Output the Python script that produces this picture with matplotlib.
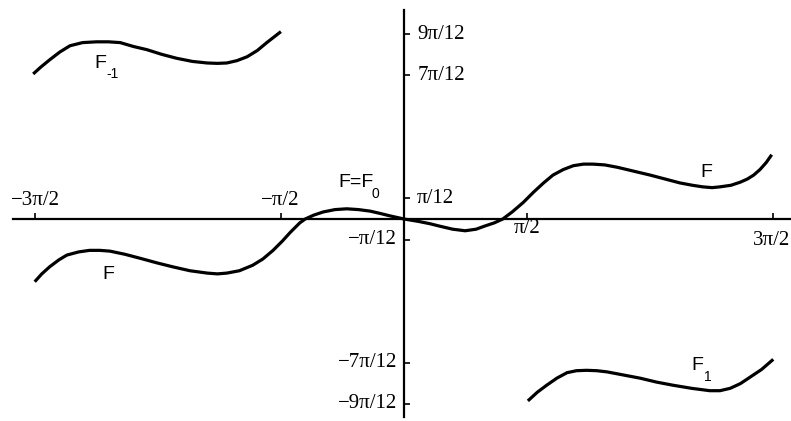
import matplotlib.pyplot as plt
import numpy as np

# curve F = F_0 (values in radians)
f_x = [-4.71, -4.62, -4.52, -4.40, -4.30, -4.15, -4.01, -3.88, -3.75, -3.56,
       -3.37, -3.15, -2.95, -2.73, -2.51, -2.38, -2.26, -2.10, -1.93, -1.80,
       -1.67, -1.55, -1.45, -1.33, -1.26, -1.15, -1.03, -0.88, -0.73, -0.58,
       -0.43, -0.30, -0.18, 0.0, 0.18, 0.33, 0.45, 0.62, 0.78, 0.92,
       1.03, 1.15, 1.26, 1.38, 1.52, 1.65, 1.78, 1.90, 2.03, 2.16,
       2.29, 2.41, 2.56, 2.72, 2.93, 3.14, 3.33, 3.52, 3.68, 3.81,
       3.93, 4.03, 4.17, 4.29, 4.38, 4.46, 4.54, 4.62, 4.69]
f_y = [-0.80, -0.70, -0.61, -0.52, -0.46, -0.42, -0.40, -0.40, -0.41, -0.45,
       -0.50, -0.56, -0.61, -0.66, -0.69, -0.70, -0.69, -0.66, -0.59, -0.51,
       -0.40, -0.28, -0.17, -0.05, 0.0, 0.05, 0.09, 0.12, 0.13, 0.12,
       0.10, 0.07, 0.04, 0.0, -0.03, -0.06, -0.09, -0.13, -0.15, -0.13,
       -0.09, -0.05, 0.0, 0.09, 0.21, 0.34, 0.46, 0.56, 0.63, 0.68,
       0.70, 0.70, 0.69, 0.66, 0.61, 0.56, 0.51, 0.46, 0.43, 0.41,
       0.40, 0.41, 0.43, 0.47, 0.51, 0.56, 0.63, 0.72, 0.82]

# curve F_-1
fm1_x = [-4.73, -4.63, -4.52, -4.39, -4.26, -4.10, -3.92, -3.77, -3.62, -3.45,
         -3.28, -3.09, -2.90, -2.70, -2.51, -2.38, -2.26, -2.13, -2.00, -1.87,
         -1.75, -1.66, -1.57]
fm1_y = [1.85, 1.94, 2.03, 2.13, 2.21, 2.25, 2.26, 2.26, 2.25, 2.20,
         2.16, 2.10, 2.05, 2.01, 1.99, 1.985, 1.99, 2.02, 2.07, 2.15,
         2.25, 2.32, 2.39]

# curve F_1
f1_x = [1.58, 1.70, 1.82, 1.95, 2.08, 2.20, 2.33, 2.46, 2.59, 2.80,
        3.01, 3.22, 3.43, 3.67, 3.90, 4.03, 4.16, 4.29, 4.41, 4.56, 4.71]
f1_y = [-2.32, -2.21, -2.12, -2.03, -1.96, -1.935, -1.93, -1.935, -1.95, -1.99,
        -2.03, -2.08, -2.12, -2.16, -2.19, -2.19, -2.16, -2.10, -2.02, -1.92, -1.79]

x_ticks = [-3 * np.pi / 2, -np.pi / 2, np.pi / 2, 3 * np.pi / 2]
x_labels = ['\u22123\u03c0/2', '\u2212\u03c0/2', '\u03c0/2', '3\u03c0/2']
y_ticks = [9 * np.pi / 12, 7 * np.pi / 12, np.pi / 12, -np.pi / 12, -7 * np.pi / 12, -9 * np.pi / 12]
y_labels = ['9\u03c0/12', '7\u03c0/12', '\u03c0/12', '\u2212\u03c0/12', '\u22127\u03c0/12', '\u22129\u03c0/12']

fig = plt.figure(figsize=(7.91, 4.21), dpi=100)
ax = fig.add_axes([0, 0, 1, 1])
s = 78.4  # px per radian
ax.set_xlim(-404 / s, (791 - 404) / s)
ax.set_ylim((219 - 421) / s, 219 / s)

for xs, ys in [(f_x, f_y), (fm1_x, fm1_y), (f1_x, f1_y)]:
    ax.plot(xs, ys, color='black', lw=2.3, solid_capstyle='butt', solid_joinstyle='round')

# axes through origin
ax.spines['top'].set_visible(False)
ax.spines['right'].set_visible(False)
ax.spines['bottom'].set_position(('data', 0))
ax.spines['left'].set_position(('data', 0))
ax.spines['bottom'].set_bounds(-4.99, 4.94)
ax.spines['left'].set_bounds(-2.52, 2.67)
for sp in ['bottom', 'left']:
    ax.spines[sp].set_linewidth(1.6)
ax.set_xticks(x_ticks)
ax.set_yticks(y_ticks)
ax.tick_params(direction='in', length=4, width=1.2, labelbottom=False, labelleft=False)
ax.patch.set_alpha(0)

serif = 'Liberation Serif'
x_off = [(0.7, 13), (-0.7, 13), (0, -7.2), (-1.4, -15.8)]
for t, lab, off in zip(x_ticks, x_labels, x_off):
    ax.annotate(lab, xy=(t, 0), xytext=off, textcoords='offset points',
                ha='center', va='center', fontsize=15, family=serif)
for t, lab in zip(y_ticks, y_labels):
    if t > 0:
        ax.annotate(lab, xy=(0, t), xytext=(9.5, 0), textcoords='offset points',
                    ha='left', va='center', fontsize=15, family=serif)
    else:
        ax.annotate(lab, xy=(0, t), xytext=(-5, 0), textcoords='offset points',
                    ha='right', va='center', fontsize=15, family=serif)

# curve names, subscripts drawn as separate smaller text
sans = 'Liberation Sans'
kw = dict(family=sans, ha='left', va='baseline')
ax.text(-3.95, 1.93, 'F', fontsize=14, **kw)
ax.text(-3.80, 1.80, '-1', fontsize=10, **kw)
ax.text(-3.85, -0.765, 'F', fontsize=14, **kw)
ax.text(-0.84, 0.41, 'F=F', fontsize=14, **kw)
ax.text(-0.42, 0.27, '0', fontsize=10, **kw)
ax.text(3.78, 0.54, 'F', fontsize=14, **kw)
ax.text(3.67, -1.93, 'F', fontsize=14, **kw)
ax.text(3.83, -2.07, '1', fontsize=10, **kw)

fig.savefig('out.png', dpi=100)
